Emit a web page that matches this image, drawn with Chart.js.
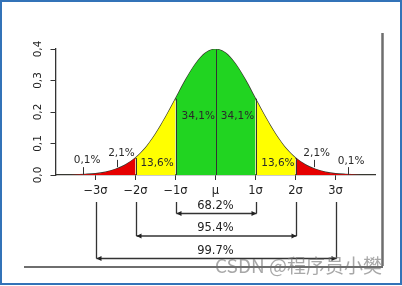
<!DOCTYPE html>
<html>
<head>
<meta charset="utf-8">
<script src="https://cdn.jsdelivr.net/npm/chart.js@4"></script>
<style>
  html, body { margin: 0; padding: 0; background: #fff; }
  #wrap { width: 402px; height: 286px; position: relative; }
</style>
</head>
<body>
<div id="wrap"><canvas id="normalChart"></canvas></div>
<script>
// bell curve (x in sigma units)
const xValues = [-4, -3.75, -3.5, -3.25, -3, -2.75, -2.5, -2.25, -2, -1.75, -1.5, -1.25, -1, -0.75, -0.5, -0.25,
  0, 0.25, 0.5, 0.75, 1, 1.25, 1.5, 1.75, 2, 2.25, 2.5, 2.75, 3, 3.25, 3.5, 3.75, 4];
const densityValues = [0.000, 0.000, 0.001, 0.002, 0.004, 0.009, 0.018, 0.032, 0.054, 0.086, 0.130, 0.183, 0.242, 0.301, 0.352, 0.387,
  0.399, 0.387, 0.352, 0.301, 0.242, 0.183, 0.130, 0.086, 0.054, 0.032, 0.018, 0.009, 0.004, 0.002, 0.001, 0.000, 0.000];

const xTickValues = [-3, -2, -1, 0, 1, 2, 3];
const xTickLabels = ["−3σ", "−2σ", "−1σ", "μ", "1σ", "2σ", "3σ"];
const yTickLabels = ["0,0", "0,1", "0,2", "0,3", "0,4"];

// shaded bands between sigma marks
const bandStarts = [-4, -2, -1, 1, 2];
const bandEnds = [-2, -1, 1, 2, 4];
const areaLabels = ["0,1%", "2,1%", "13,6%", "34,1%", "34,1%", "13,6%", "2,1%", "0,1%"];
const spanLabels = ["68.2%", "95.4%", "99.7%"];
const spanSigmas = [1, 2, 3];

const bandColors = ["#e60000", "#ffff00", "#21d421", "#ffff00", "#e60000"];
const FONT = "'DejaVu Sans', sans-serif";

function densityAt(v) {
  return densityValues[xValues.indexOf(v)];
}

function bandPoints(a, b) {
  const pts = [];
  xValues.forEach((v, i) => {
    if (v >= a && v <= b) pts.push({ x: v, y: densityValues[i] });
  });
  return pts;
}

const datasets = bandStarts.map((a, i) => ({
  data: bandPoints(a, bandEnds[i]),
  backgroundColor: bandColors[i],
  borderWidth: 0,
  pointRadius: 0,
  fill: 'origin',
  cubicInterpolationMode: 'monotone'
}));
datasets.push({
  data: bandPoints(-4, 4),
  borderColor: '#3a3a30',
  borderWidth: 1.4,
  pointRadius: 0,
  fill: false,
  cubicInterpolationMode: 'monotone'
});

// where the percentage labels sit (data units)
const labelSpots = [[-3.21, 0.048], [-2.35, 0.070], [-1.46, 0.038], [-0.43, 0.186],
  [0.55, 0.186], [1.56, 0.038], [2.53, 0.068], [3.39, 0.045]];
const pointers = [[-3.31, 0, 0.025], [-2.46, 0.025, 0.048], [2.46, 0.025, 0.048], [3.31, 0, 0.025]];

function arrow(ctx, x1, x2, y) {
  ctx.beginPath();
  ctx.moveTo(x1, y); ctx.lineTo(x2, y); ctx.stroke();
  ctx.beginPath();
  ctx.moveTo(x1, y); ctx.lineTo(x1 + 5, y - 2.5); ctx.lineTo(x1 + 5, y + 2.5); ctx.closePath();
  ctx.moveTo(x2, y); ctx.lineTo(x2 - 5, y - 2.5); ctx.lineTo(x2 - 5, y + 2.5); ctx.closePath();
  ctx.fill();
}

const extras = {
  id: 'extras',
  afterDatasetsDraw(chart) {
    const { ctx } = chart;
    const xs = chart.scales.x, ys = chart.scales.y;
    const base = ys.getPixelForValue(0);
    ctx.save();
    ctx.strokeStyle = '#333';
    ctx.fillStyle = '#222';
    ctx.lineWidth = 1;

    // dividers under the curve
    [-2, -1, 0, 1, 2].forEach(v => {
      const px = Math.round(xs.getPixelForValue(v)) + 0.5;
      ctx.beginPath();
      ctx.moveTo(px, base);
      ctx.lineTo(px, ys.getPixelForValue(densityAt(v)));
      ctx.stroke();
    });

    pointers.forEach(p => {
      const px = Math.round(xs.getPixelForValue(p[0])) + 0.5;
      ctx.beginPath();
      ctx.moveTo(px, ys.getPixelForValue(p[1]));
      ctx.lineTo(px, ys.getPixelForValue(p[2]));
      ctx.stroke();
    });

    ctx.font = '10.5px ' + FONT;
    ctx.textAlign = 'center';
    ctx.textBaseline = 'middle';
    ctx.fillStyle = '#2a2a2a';
    areaLabels.forEach((t, i) => {
      ctx.fillText(t, xs.getPixelForValue(labelSpots[i][0]), ys.getPixelForValue(labelSpots[i][1]));
    });

    // brackets below the axis
    const rows = [213.5, 236, 258.5];
    ctx.font = '11.5px ' + FONT;
    ctx.fillStyle = '#222';
    ctx.lineWidth = 1.3;
    spanSigmas.forEach((s, i) => {
      const l = Math.round(xs.getPixelForValue(-s)) + 0.5;
      const r = Math.round(xs.getPixelForValue(s)) + 0.5;
      ctx.beginPath();
      ctx.moveTo(l, 202); ctx.lineTo(l, rows[i]);
      ctx.moveTo(r, 202); ctx.lineTo(r, rows[i]);
      ctx.stroke();
      arrow(ctx, l, r, rows[i]);
      ctx.fillText(spanLabels[i], xs.getPixelForValue(0), rows[i] - 7.5);
    });
    ctx.restore();
  },
  afterDraw(chart) {
    const { ctx } = chart;
    ctx.save();
    // leftover frame lines of the original figure
    ctx.strokeStyle = '#6e6e6e';
    ctx.lineWidth = 2.5;
    ctx.beginPath();
    ctx.moveTo(382.5, 33); ctx.lineTo(382.5, 266);
    ctx.stroke();
    ctx.lineWidth = 1.8;
    ctx.beginPath();
    ctx.moveTo(24, 267); ctx.lineTo(383, 267);
    ctx.stroke();
    // watermark
    ctx.font = "19px 'Noto Sans CJK SC'";
    ctx.textAlign = 'left';
    ctx.textBaseline = 'middle';
    ctx.fillStyle = 'rgba(110,110,110,0.6)';
    ctx.fillText('CSDN @程序员小樊', 215, 266);
    // blue border
    ctx.strokeStyle = '#3373b8';
    ctx.lineWidth = 2;
    ctx.strokeRect(1, 1, 400, 283);
    ctx.restore();
  }
};

new Chart(document.getElementById('normalChart'), {
  type: 'line',
  data: { datasets },
  options: {
    responsive: true,
    maintainAspectRatio: false,
    animation: false,
    layout: { padding: { left: 15.5, right: 26.5, top: 49, bottom: 81 } },
    plugins: { legend: { display: false }, tooltip: { enabled: false } },
    scales: {
      x: {
        type: 'linear',
        min: -4,
        max: 4,
        z: 1,
        afterBuildTicks: s => { s.ticks = xTickValues.map(v => ({ value: v })); },
        afterFit: s => { s.height = 30; },
        ticks: {
          callback: v => xTickLabels[xTickValues.indexOf(v)],
          font: { family: FONT, size: 11.5 },
          color: '#222',
          padding: 4,
          maxRotation: 0,
          autoSkip: false
        },
        grid: { drawOnChartArea: false, tickLength: 5, color: '#333' },
        border: { color: '#333', width: 1.3 }
      },
      y: {
        min: 0,
        max: 0.4,
        z: 1,
        afterFit: s => { s.width = 40; },
        ticks: {
          stepSize: 0.1,
          callback: (v, i) => yTickLabels[i],
          font: { family: FONT, size: 10.5 },
          color: '#222',
          minRotation: 90,
          maxRotation: 90,
          crossAlign: 'center',
          padding: 4
        },
        grid: { drawOnChartArea: false, tickLength: 5, color: '#333' },
        border: { color: '#333', width: 1.3 }
      }
    }
  },
  plugins: [extras]
});
</script>
</body>
</html>
